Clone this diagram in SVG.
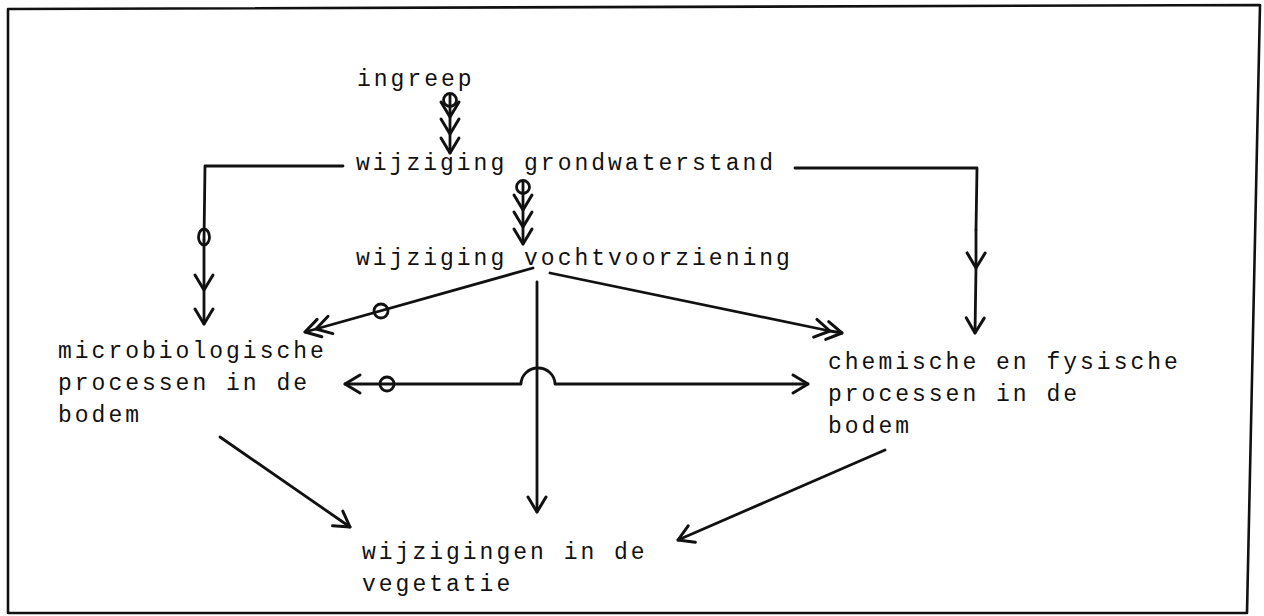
<svg xmlns="http://www.w3.org/2000/svg" width="1264" height="616" viewBox="0 0 1264 616">
<style>
text{font-family:"Liberation Mono","DejaVu Sans Mono",monospace;font-size:23px;letter-spacing:3px;fill:#111}
.ln{fill:none;stroke:#111;stroke-width:2.8;stroke-linecap:round;stroke-linejoin:round}
.th{fill:none;stroke:#111;stroke-width:2.6;stroke-linejoin:round}
.ring{fill:none;stroke:#111;stroke-width:2.8}
</style>
<defs>
<marker id="chev" viewBox="-20 -12 24 24" refX="0" refY="0" markerWidth="24" markerHeight="24" markerUnits="userSpaceOnUse" orient="auto-start-reverse">
<path d="M-15,-9 L0,0 L-15,9" fill="none" stroke="#111" stroke-width="3" stroke-linecap="round" stroke-linejoin="round"/>
</marker>
</defs>
<rect width="1264" height="616" fill="#fff"/>
<path class="th" d="M8,9 L1260,5 L1247,613 L8,613 Z"/>

<g id="ingreep"><text x="357" y="86">ingreep</text></g>
<g id="grondwaterstand"><text x="356" y="170">wijziging grondwaterstand</text></g>
<g id="vochtvoorziening"><text x="356" y="265">wijziging vochtvoorziening</text></g>
<g id="microbiologisch"><text x="58" y="358">microbiologische</text><text x="58" y="390">processen in de</text><text x="58" y="422">bodem</text></g>
<g id="chemisch"><text x="828" y="369">chemische en fysische</text><text x="828" y="401">processen in de</text><text x="828" y="433">bodem</text></g>
<g id="vegetatie"><text x="362" y="559">wijzigingen in de</text><text x="362" y="591">vegetatie</text></g>

<g id="connectors">
<path class="ln" d="M450,94 L450,117 L450,134 L450,153" marker-mid="url(#chev)" marker-end="url(#chev)"/>
<circle class="ring" cx="450" cy="100" r="6.5"/>
<path class="ln" d="M523,181 L523,210 L523,227 L523,244" marker-mid="url(#chev)" marker-end="url(#chev)"/>
<circle class="ring" cx="523" cy="187" r="6.5"/>
<path class="ln" d="M343,166 L205,166 L204,240"/>
<path class="ln" d="M204,240 L204,290 L204,324" marker-mid="url(#chev)" marker-end="url(#chev)"/>
<ellipse class="ring" cx="204" cy="237" rx="5.5" ry="8"/>
<path class="ln" d="M795,168 L977,168 L976,230"/>
<path class="ln" d="M976,230 L976,268 L975,333" marker-mid="url(#chev)" marker-end="url(#chev)"/>
<path class="ln" d="M533,268 L316,329 L305,332" marker-mid="url(#chev)" marker-end="url(#chev)"/>
<circle class="ring" cx="381" cy="311" r="7"/>
<path class="ln" d="M550,273 L830,331 L842,333" marker-mid="url(#chev)" marker-end="url(#chev)"/>
<path class="ln" d="M345,384 L521,384 A17,16 0 0 1 555,384 L808,384" marker-start="url(#chev)" marker-end="url(#chev)"/>
<circle class="ring" cx="387" cy="384" r="7"/>
<path class="ln" d="M537,282 L537,512" marker-end="url(#chev)"/>
<path class="ln" d="M220,437 L350,527" marker-end="url(#chev)"/>
<path class="ln" d="M885,450 L678,540" marker-end="url(#chev)"/>
</g>
</svg>
